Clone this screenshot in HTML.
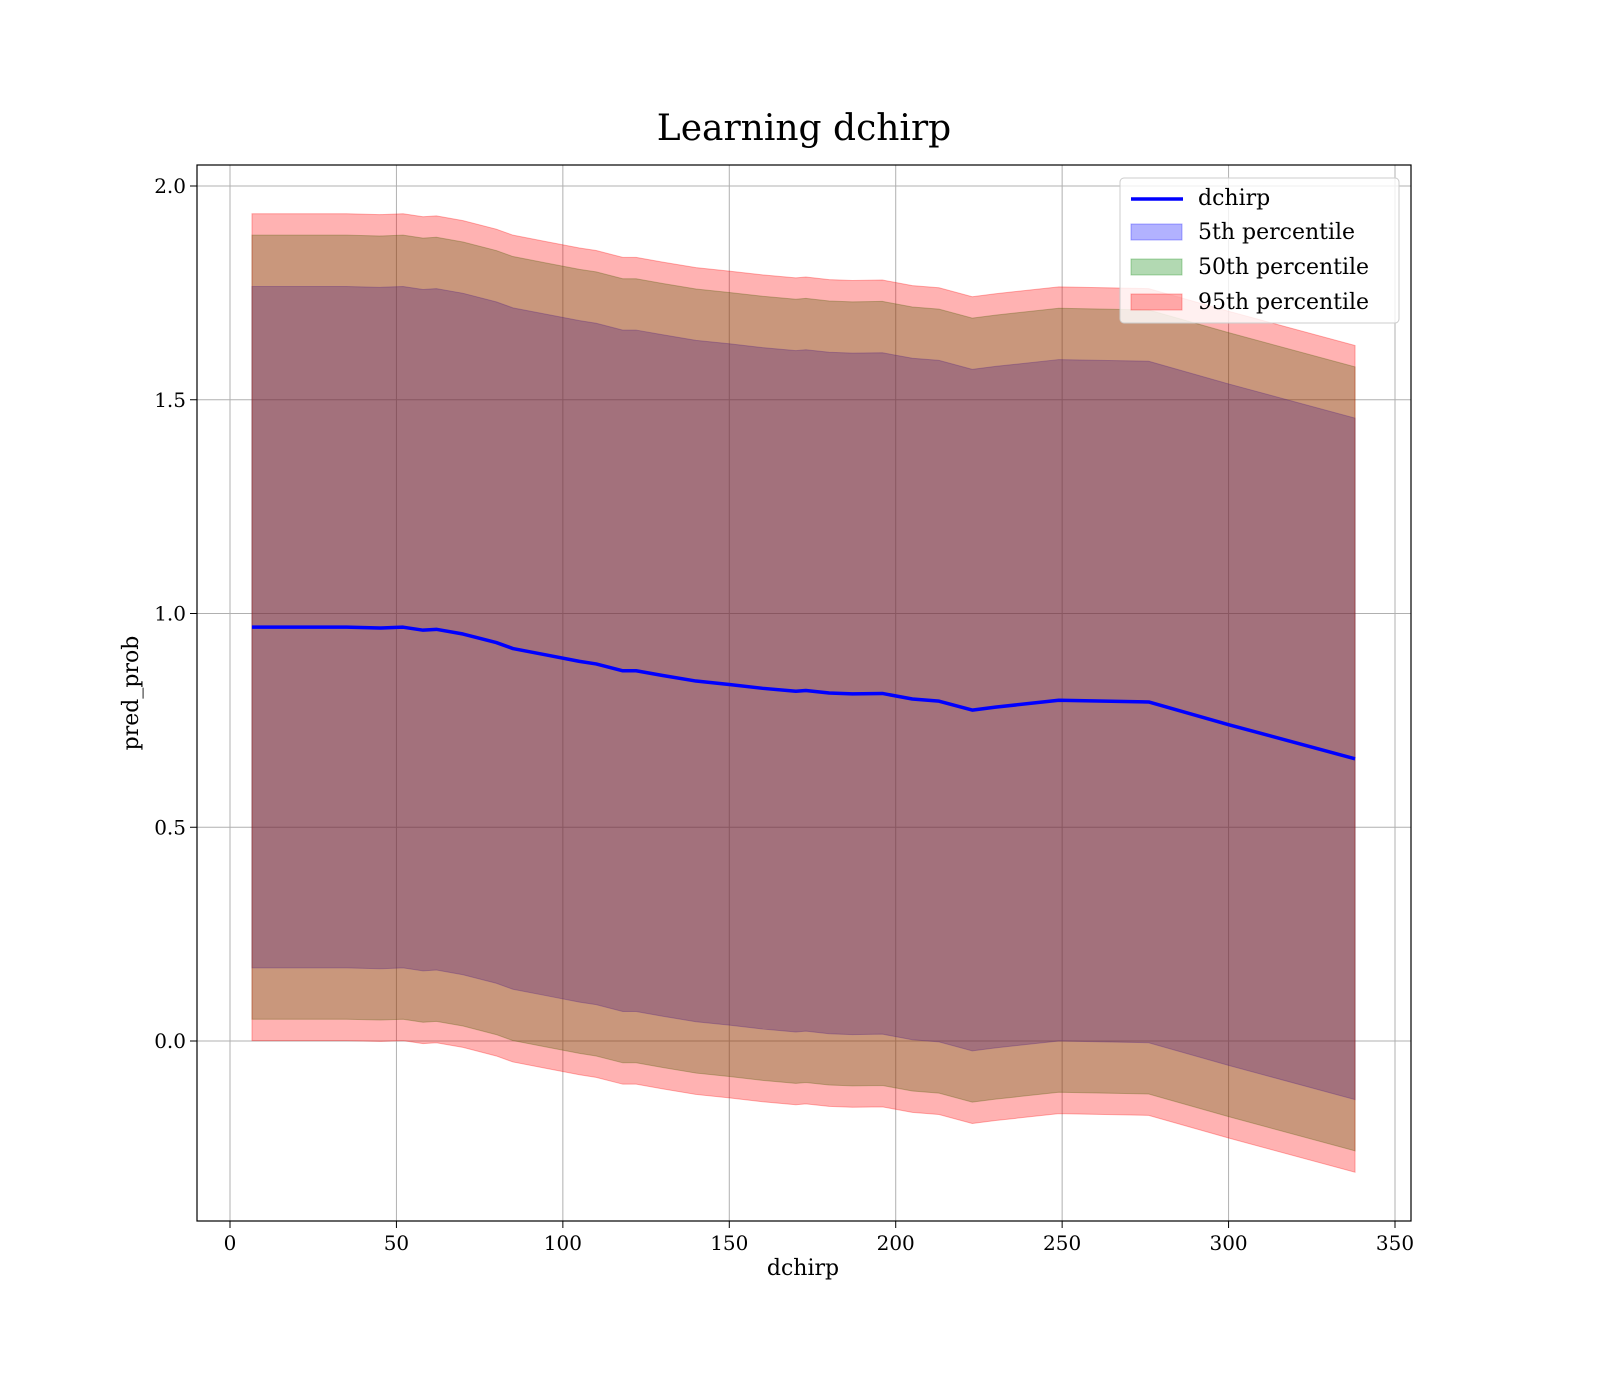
<!DOCTYPE html>
<html><head><meta charset="utf-8">
<style>
body{margin:0;background:#fff;}
svg{display:block;font-family:"DejaVu Serif","Liberation Serif",serif;}
</style></head>
<body>
<svg id="chart" width="1600" height="1400" viewBox="0 0 1600 1400">
<rect x="0" y="0" width="1600" height="1400" fill="#fff"/>
<text x="804" y="140" font-size="36" text-anchor="middle" fill="#000">Learning dchirp</text>
<g id="grid"></g>
<g id="bands"></g>
<g id="lineg"></g>
<rect x="197" y="165" width="1214" height="1056" fill="none" stroke="#000" stroke-width="1.2"/>
<g id="ticks"></g>
<text x="803" y="1275" font-size="22" text-anchor="middle">dchirp</text>
<text transform="translate(138,693) rotate(-90)" font-size="22" text-anchor="middle">pred_prob</text>
<g>
<rect x="1120" y="178" width="279" height="145" rx="4" fill="rgba(255,255,255,0.8)" stroke="#ccc"/>
<line x1="1131" y1="199" x2="1183" y2="199" stroke="#0000ff" stroke-width="3.5"/>
<text x="1198" y="205" font-size="22">dchirp</text>
<rect x="1131" y="224" width="51" height="16" fill="rgba(0,0,255,0.3)" stroke="rgba(0,0,255,0.3)"/>
<text x="1198" y="239" font-size="22">5th percentile</text>
<rect x="1131" y="259" width="51" height="16" fill="rgba(0,128,0,0.3)" stroke="rgba(0,128,0,0.3)"/>
<text x="1198" y="274" font-size="22">50th percentile</text>
<rect x="1131" y="294" width="51" height="16" fill="rgba(255,0,0,0.3)" stroke="rgba(255,0,0,0.3)"/>
<text x="1198" y="309" font-size="22">95th percentile</text>
</g>
</svg>
<script>
const xValues=[6.6,35,45,52,58,62,70,80,85,95,105,110,118,122,130,140,150,160,170,173,180,187,196,205,213,223,230,249,276,300,338];
const meanValues=[0.968,0.968,0.966,0.968,0.961,0.963,0.952,0.932,0.918,0.903,0.888,0.882,0.866,0.866,0.855,0.842,0.834,0.825,0.818,0.820,0.814,0.812,0.813,0.800,0.795,0.774,0.781,0.797,0.793,0.740,0.660];
const halfWidth5=0.797;
const halfWidth50=0.917;
const halfWidth95=0.967;
const xTicks=[0,50,100,150,200,250,300,350];
const yTicks=[0.0,0.5,1.0,1.5,2.0];
const yTickLabels=["0.0","0.5","1.0","1.5","2.0"];

const NS="http://www.w3.org/2000/svg";
function sx(v){return 230+v*(1395-230)/350;}
function sy(v){return 1041-v*427.5;}
function mk(tag,attrs,parent){const e=document.createElementNS(NS,tag);for(const k in attrs)e.setAttribute(k,attrs[k]);parent.appendChild(e);return e;}
const grid=document.getElementById('grid'),ticks=document.getElementById('ticks');
xTicks.forEach(t=>{
  const g=mk('line',{x1:sx(t),x2:sx(t),y1:165,y2:1221,stroke:'#b0b0b0','stroke-width':1},grid);
  
  
  const tk=mk('line',{x1:sx(t),x2:sx(t),y1:1221,y2:1228,stroke:'#000','stroke-width':1},ticks);
  
  
  const tx=mk('text',{x:sx(t),y:1250,'font-size':20,'text-anchor':'middle'},ticks);
  tx.textContent=String(t);
  
  
});
yTicks.forEach((t,i)=>{
  const g=mk('line',{x1:197,x2:1411,y1:sy(t),y2:sy(t),stroke:'#b0b0b0','stroke-width':1},grid);
  
  
  const tk=mk('line',{x1:190,x2:197,y1:sy(t),y2:sy(t),stroke:'#000','stroke-width':1},ticks);
  
  
  const tx=mk('text',{x:186,y:sy(t)+7,'font-size':20,'text-anchor':'end'},ticks);
  tx.textContent=yTickLabels[i];
  
  
});
function band(h,color,name){
  let d='';
  xValues.forEach((x,i)=>{d+=(i?'L':'M')+sx(x)+','+sy(meanValues[i]+h);});
  for(let i=xValues.length-1;i>=0;i--)d+='L'+sx(xValues[i])+','+sy(meanValues[i]-h);
  const p=mk('path',{d:d+'Z',fill:color,stroke:color,'stroke-width':1},document.getElementById('bands'));
  
  
}
band(halfWidth5,'rgba(0,0,255,0.3)','band-5th-percentile');
band(halfWidth50,'rgba(0,128,0,0.3)','band-50th-percentile');
band(halfWidth95,'rgba(255,0,0,0.3)','band-95th-percentile');
const pts=xValues.map((x,i)=>sx(x)+','+sy(meanValues[i])).join(' ');
const ln=mk('polyline',{points:pts,fill:'none',stroke:'#0000ff','stroke-width':3.5,'stroke-linejoin':'round'},document.getElementById('lineg'));


</script>
</body></html>
